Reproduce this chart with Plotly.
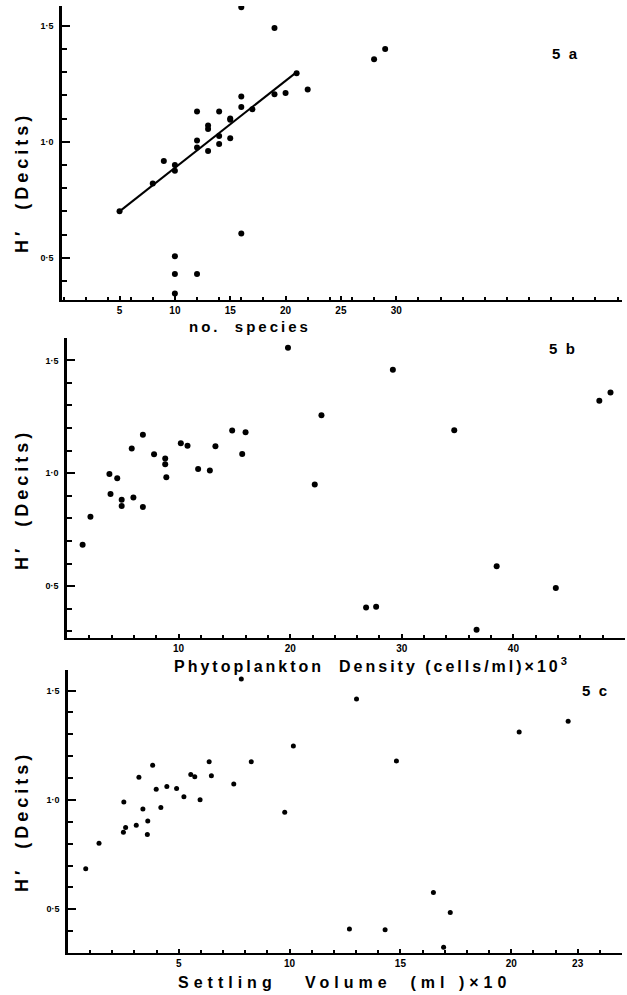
import plotly.graph_objects as go

# ---------------- data ----------------
# Panel 5a : number of species vs H'
a_species = [16, 19, 28, 29, 21, 22, 19, 20, 16, 16, 17, 12, 14, 15, 15,
             13, 13, 14, 15, 12, 12, 14, 13, 9, 10, 10, 8, 5, 16, 10, 10, 12, 10]
a_h = [1.58, 1.49, 1.355, 1.40, 1.295, 1.225, 1.205, 1.21, 1.195, 1.15, 1.14, 1.13, 1.13, 1.10, 1.095,
       1.07, 1.055, 1.025, 1.015, 1.005, 0.975, 0.99, 0.96, 0.917, 0.90, 0.875, 0.82, 0.70, 0.605,
       0.507, 0.43, 0.43, 0.346]
fit_species = [5, 21]
fit_h = [0.70, 1.30]

# Panel 5b : phytoplankton density (cells/ml x 10^3) vs H'
b_density = [1.4, 2.1, 3.8, 3.9, 4.5, 4.9, 4.9, 5.95, 5.8, 6.8, 6.8, 7.8, 8.8, 8.8, 8.9,
             10.2, 10.8, 11.75, 12.8, 13.3, 14.8, 16.0, 15.7, 19.8, 22.8, 22.2, 29.2, 34.7,
             47.7, 48.7, 38.5, 43.8, 26.8, 27.7, 36.7]
b_h = [0.683, 0.807, 0.996, 0.908, 0.978, 0.882, 0.855, 0.892, 1.11, 1.17, 0.85, 1.084, 1.065, 1.04, 0.982,
       1.133, 1.122, 1.019, 1.012, 1.119, 1.189, 1.181, 1.085, 1.556, 1.257, 0.95, 1.458, 1.19,
       1.321, 1.358, 0.588, 0.491, 0.405, 0.408, 0.307]

# Panel 5c : settling volume (ml x 10) vs H'
c_volume = [0.8, 1.4, 2.52, 2.5, 2.6, 3.08, 3.2, 3.38, 3.6, 3.58, 3.82, 3.98, 4.19, 4.46, 4.9,
            5.23, 5.54, 5.72, 5.96, 6.37, 6.47, 7.48, 7.82, 8.27, 9.78, 10.17, 13.02, 14.82,
            20.36, 22.57, 16.49, 17.25, 12.7, 14.31, 16.95]
c_h = [0.685, 0.802, 0.991, 0.852, 0.874, 0.884, 1.104, 0.959, 0.904, 0.842, 1.158, 1.049, 0.965, 1.061, 1.052,
       1.014, 1.116, 1.106, 1.001, 1.174, 1.11, 1.073, 1.553, 1.174, 0.944, 1.247, 1.461, 1.178,
       1.31, 1.36, 0.577, 0.485, 0.41, 0.406, 0.326]

y_tickvals = [0.5, 1.0, 1.5]
y_ticktext = ["0·5", "1·0", "1·5"]
a_xtickvals = [5, 10, 15, 20, 25, 30]
a_xticktext = ["5", "10", "15", "20", "25", "30"]
b_xtickvals = [10, 20, 30, 40, 50]
b_xticktext = ["10", "20", "30", "40", "90"]
c_xtickvals = [5, 10, 15, 20, 23]
c_xticktext = ["5", "10", "15", "20", "23"]

# ---------------- layout helpers ----------------
W, H = 627, 995
FONT = "Liberation Sans, Arial, sans-serif"


def fx(p):
    return p / W


def fy(p):
    return 1 - p / H


fig = go.Figure()

fig.add_trace(go.Scatter(x=a_species, y=a_h, mode="markers", xaxis="x", yaxis="y",
                         marker=dict(color="black", size=6), showlegend=False))
fig.add_trace(go.Scatter(x=fit_species, y=fit_h, mode="lines", xaxis="x", yaxis="y",
                         line=dict(color="black", width=2), showlegend=False))
fig.add_trace(go.Scatter(x=b_density, y=b_h, mode="markers", xaxis="x2", yaxis="y2",
                         marker=dict(color="black", size=6), showlegend=False))
fig.add_trace(go.Scatter(x=c_volume, y=c_h, mode="markers", xaxis="x3", yaxis="y3",
                         marker=dict(color="black", size=5), showlegend=False))


def xax(dom, rng, tv, tt, mdt, anchor):
    return dict(domain=[fx(dom[0]), fx(dom[1])], range=rng, anchor=anchor,
                showgrid=False, zeroline=False, showline=True, linecolor="black", linewidth=2,
                tickmode="array", tickvals=tv, ticktext=tt, ticks="inside", ticklen=4,
                tickcolor="black", tickwidth=1.5,
                minor=dict(ticks="inside", dtick=mdt, tick0=0, ticklen=3, tickcolor="black", tickwidth=1.5),
                tickfont=dict(family=FONT, size=10, color="black", weight="bold"),
                fixedrange=True)


def yax(dom, rng, anchor):
    return dict(domain=[fy(dom[1]), fy(dom[0])], range=rng, anchor=anchor,
                showgrid=False, zeroline=False, showline=True, linecolor="black", linewidth=2.5,
                tickmode="array", tickvals=y_tickvals, ticktext=y_ticktext,
                ticks="inside", ticklen=8, tickcolor="black", tickwidth=2,
                minor=dict(ticks="inside", dtick=0.1, tick0=0, ticklen=5, tickcolor="black", tickwidth=1.5),
                tickfont=dict(family=FONT, size=9, color="black", weight="bold"),
                ticklabelstandoff=4,
                fixedrange=True)


fig.update_layout(
    width=W, height=H, margin=dict(l=0, r=0, t=0, b=0),
    paper_bgcolor="white", plot_bgcolor="white",
    xaxis=xax((62, 622), [-0.2, 50.4], a_xtickvals, a_xticktext, 2, "y"),
    yaxis=yax((6, 300), [0.318, 1.585], "x"),
    xaxis2=xax((67, 625), [0, 50], b_xtickvals, b_xticktext, 2, "y2"),
    yaxis2=yax((338, 638), [0.27, 1.599], "x2"),
    xaxis3=xax((68, 622), [0, 25], c_xtickvals, c_xticktext, 1, "y3"),
    yaxis3=yax((670, 953), [0.30, 1.594], "x3"),
)

ann = []
def label(text, x, y, size, angle=0, spacing=None):
    if spacing is not None:
        text = '<span style="letter-spacing:%dpx">%s</span>' % (spacing, text)
    ann.append(dict(text=text, x=fx(x), y=fy(y), xref="paper", yref="paper",
                    xanchor="center", yanchor="middle", showarrow=False, textangle=angle,
                    font=dict(family=FONT, size=size, color="black", weight="bold")))

for yc in (183, 500, 822):
    label("H′  (Decits)", 22, yc, 18, angle=-90, spacing=4)

label("no.  species", 250, 326, 15, spacing=3)
label("Phytoplankton  Density (cells/ml)×10<sup>3</sup>", 372, 665, 16, spacing=3)
label("Settling   Volume  (ml )×10", 344, 982, 16, spacing=5)
label("5  a", 565, 54, 15)
label("5  b", 562, 349, 15)
label("5  c", 594, 690, 15)

fig.update_layout(annotations=ann)
fig.write_html("out.html")
